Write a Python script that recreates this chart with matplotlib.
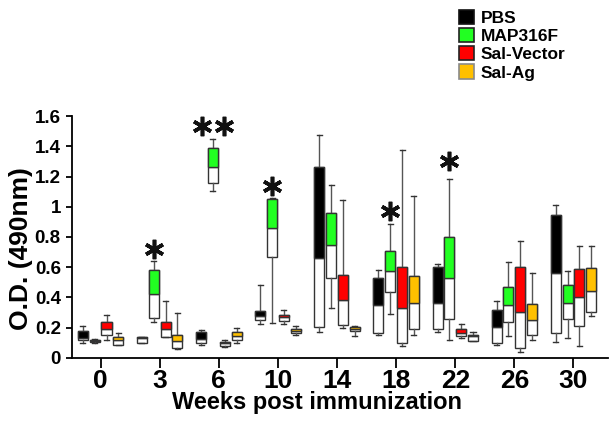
import matplotlib
matplotlib.use("Agg")
import matplotlib.pyplot as plt
from matplotlib.patches import Patch

plt.rcParams["font.family"] = ["Liberation Sans", "DejaVu Sans"]
plt.rcParams["font.weight"] = "bold"

# Data: O.D. (490nm) box stats per group
weeks = ["0", "3", "6", "10", "14", "18", "22", "26", "30"]
groups = ["PBS", "MAP316F", "Sal-Vector", "Sal-Ag"]

# each entry: [min, q1, median, q3, max] for weeks 0..30
pbs = [
    [0.10, 0.115, 0.13, 0.18, 0.21],
    [0.10, 0.10, 0.13, 0.14, 0.14],
    [0.088, 0.10, 0.128, 0.172, 0.187],
    [0.224, 0.253, 0.28, 0.313, 0.484],
    [0.172, 0.202, 0.661, 1.262, 1.476],
    [0.154, 0.165, 0.348, 0.529, 0.584],
    [0.169, 0.192, 0.363, 0.601, 0.621],
    [0.086, 0.095, 0.205, 0.319, 0.374],
    [0.106, 0.165, 0.562, 0.943, 1.013],
]
map316f = [
    [0.10, 0.105, 0.11, 0.12, 0.125],
    [0.238, 0.264, 0.423, 0.584, 0.639],
    [1.106, 1.157, 1.266, 1.388, 1.447],
    [0.231, 0.667, 0.859, 1.053, 1.06],
    [0.330, 0.529, 0.744, 0.958, 1.145],
    [0.291, 0.434, 0.573, 0.709, 0.886],
    [0.121, 0.260, 0.529, 0.800, 1.183],
    [0.143, 0.238, 0.348, 0.467, 0.632],
    [0.132, 0.258, 0.363, 0.480, 0.573],
]
sal_vector = [
    [0.121, 0.154, 0.192, 0.235, 0.286],
    [0.135, 0.139, 0.192, 0.238, 0.379],
    [0.070, 0.077, 0.095, 0.106, 0.121],
    [0.224, 0.242, 0.268, 0.286, 0.319],
    [0.198, 0.220, 0.385, 0.551, 1.046],
    [0.081, 0.095, 0.330, 0.599, 1.377],
    [0.132, 0.143, 0.165, 0.194, 0.227],
    [0.040, 0.066, 0.304, 0.599, 0.775],
    [0.077, 0.213, 0.403, 0.588, 0.738],
]
sal_ag = [
    [0.085, 0.088, 0.12, 0.14, 0.165],
    [0.06, 0.064, 0.110, 0.154, 0.297],
    [0.095, 0.121, 0.147, 0.172, 0.198],
    [0.152, 0.165, 0.180, 0.192, 0.209],
    [0.143, 0.176, 0.194, 0.207, 0.211],
    [0.154, 0.192, 0.363, 0.544, 1.068],
    [0.110, 0.114, 0.143, 0.154, 0.169],
    [0.121, 0.149, 0.253, 0.359, 0.562],
    [0.280, 0.304, 0.445, 0.592, 0.738],
]
series = [pbs, map316f, sal_vector, sal_ag]

# significance marks: (week index, number of stars, y)
star_week = [1, 2, 3, 5, 6]
star_count = [1, 2, 1, 1, 1]
star_y = [0.72, 1.535, 1.135, 0.97, 1.30]

colors = ["#000000", "#22ff22", "#ff0000", "#ffc000"]
edge_legend = ["#111111", "#222222", "#222222", "#8a8a8a"]
spacing = 0.2
box_w = 0.17


def main():
    fig = plt.figure(figsize=(6.09, 4.22), dpi=100)
    ax = fig.add_axes([0.118, 0.152, 0.880, 0.573])

    for s, (vals, col) in enumerate(zip(series, colors)):
        off = (s - 1.5) * spacing
        pos = [i + off for i in range(len(weeks))]
        stats = [
            dict(whislo=v[0], q1=v[1], med=v[2], q3=v[3], whishi=v[4], fliers=[])
            for v in vals
        ]
        ax.bxp(
            stats, positions=pos, widths=box_w, patch_artist=True,
            showfliers=False, manage_ticks=False,
            boxprops=dict(facecolor="white", edgecolor="#333333", linewidth=1),
            whiskerprops=dict(color="#555555", linewidth=1),
            capprops=dict(color="#333333", linewidth=1),
            medianprops=dict(color="#333333", linewidth=1),
        )
        med = [v[2] for v in vals]
        top = [v[3] - v[2] for v in vals]
        ax.bar(pos, top, bottom=med, width=box_w, color=col,
               edgecolor="#333333", linewidth=1, zorder=3)

    # asterisks over MAP316F boxes
    for wk, n, y in zip(star_week, star_count, star_y):
        x0 = wk + (1 - 1.5) * spacing
        xs = [x0] if n == 1 else [x0 - 0.19, x0 + 0.19]
        for x in xs:
            ax.plot(x, y, marker=(6, 2, 0), markersize=14, color="#111111",
                    markeredgewidth=2.6, zorder=5, clip_on=False)

    ax.set_xlim(-0.486, 8.58)
    ax.set_ylim(0, 1.6)
    ax.set_xticks(range(len(weeks)))
    ax.set_xticklabels(weeks, fontsize=19, fontweight="bold")
    yt = [0, 0.2, 0.4, 0.6, 0.8, 1.0, 1.2, 1.4, 1.6]
    ax.set_yticks(yt)
    ax.set_yticklabels([f"{t:g}" for t in yt], fontsize=13.5, fontweight="bold")
    ax.spines["top"].set_visible(False)
    ax.spines["right"].set_visible(False)
    ax.spines["left"].set_linewidth(1.3)
    ax.spines["bottom"].set_linewidth(1.3)
    ax.tick_params(axis="y", length=4, width=1.3, pad=4)
    ax.tick_params(axis="x", length=7, width=1.3, pad=1)
    ax.set_xlabel("Weeks post immunization", fontsize=17, fontweight="bold")
    ax.xaxis.set_label_coords(0.457, -0.136)
    ax.set_ylabel("O.D. (490nm)", fontsize=19, fontweight="bold")
    ax.yaxis.set_label_coords(-0.073, 0.45)

    handles = [Patch(facecolor=c, edgecolor=e, linewidth=1.2)
               for c, e in zip(colors, edge_legend)]
    fig.legend(handles, groups, loc="upper left", bbox_to_anchor=(0.739, 0.998),
               frameon=False, handlelength=0.9, handleheight=0.9,
               handletextpad=0.35, labelspacing=0.12, borderpad=0,
               prop=dict(weight="bold", size=12.5))

    fig.savefig("out.png", dpi=100)


if __name__ == "__main__":
    main()
